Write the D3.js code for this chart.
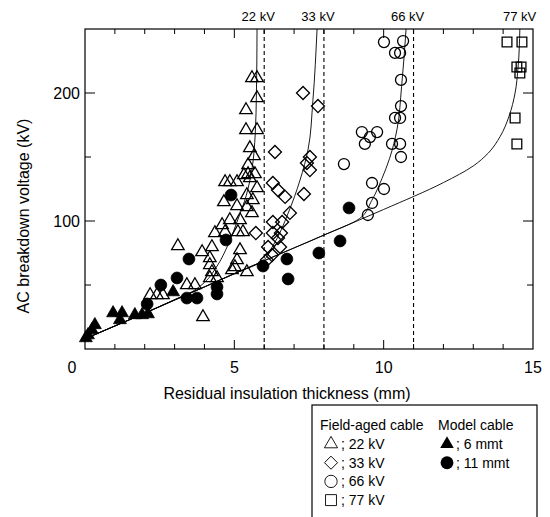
<!DOCTYPE html>
<html><head><meta charset="utf-8">
<script src="https://cdn.jsdelivr.net/npm/d3@7"></script>
<style>
html,body{margin:0;padding:0;background:#fff;}
svg{display:block;font-family:"Liberation Sans",Arial,sans-serif;}
</style></head>
<body><svg id="chart" width="550" height="517"></svg>
<script>
// ---------- data ----------
const xTicksMajor = [5, 10, 15];
const yTicksMajor = [100, 200];
const voltageLines = [6, 8, 11];
const voltageLabels = ["22 kV", "33 kV", "66 kV", "77 kV"];
const voltageLabelX = [5.8, 7.8, 10.8, 14.55];

const tri22 = [[5.59,211.7],[5.76,211.7],[5.76,196.1],[5.39,186.7],[5.39,171.1],[5.76,171.1],[5.52,157],[5.66,150.8],[5.46,143.8],[5.32,135.9],[5.52,133.6],[5.46,136.7],[5.69,136.7],[4.69,130.5],[4.85,130.5],[5.09,130.5],[5.42,120.3],[5.76,125.8],[5.62,116.4],[4.65,114.8],[5.09,111.7],[5.42,110.9],[5.59,106.3],[4.85,100.8],[5.19,100.8],[4.59,96.9],[4.35,90.6],[4.69,91.4],[5.12,91.4],[5.29,91.4],[3.11,80.5],[3.92,75.8],[4.25,79.7],[4.18,71.1],[4.18,65.6],[5.19,77.3],[5.09,69.5],[5.02,64.1],[4.25,60.2],[4.92,61.7],[5.42,60.2],[4.18,55.5],[4.42,55.5],[3.41,50],[3.68,50],[2.18,42.2],[2.41,42.2],[2.61,42.2],[3.95,25]];
const dia33 = [[7.3,200],[7.8,189.8],[6.36,153.9],[7.53,150],[7.53,139.8],[7.43,145.3],[6.29,129.7],[6.46,124.2],[6.7,118.8],[7.33,121.1],[6.86,106.3],[6.29,99.2],[6.6,99.2],[6.29,90.6],[6.56,90.6],[5.72,90.6],[6.46,86.7],[6.13,79.7],[6.53,79.7],[6.26,73.4],[6.09,69.5]];
const cir66 = [[10.01,239.8],[10.65,240.6],[10.38,231.3],[10.55,231.3],[10.58,210.2],[10.58,189.8],[10.38,180.5],[10.55,180.5],[9.27,169.5],[9.78,169.5],[9.54,165.6],[9.37,160.2],[10.28,160.2],[10.55,160.2],[10.58,150],[8.67,144.5],[9.61,129.7],[10.01,125],[9.61,114.1],[9.47,104.7]];
const sq77 = [[14.13,239.8],[14.63,239.8],[14.46,220.3],[14.6,220.3],[14.56,215.6],[14.4,180.5],[14.46,160.2]];
const model6 = [[0.03,8.6],[0.1,10.9],[0.23,14.8],[0.33,18.8],[0.94,28.1],[1.24,28.1],[1.17,22.7],[1.67,26.6],[1.91,26.6],[2.11,27.3],[2.95,44.5]];
const model11 = [[4.89,120.3],[4.72,85.2],[3.48,70.3],[3.08,55.5],[2.54,50],[2.08,35.2],[3.41,39.8],[3.75,39.8],[4.42,48.4],[4.42,43],[5.96,64.8],[6.76,70.3],[6.8,54.7],[7.83,75],[8.54,84.4],[8.84,110.2]];

const curve22 = [[0,8],[1,18],[2,28],[3,38.5],[3.6,45],[4.0,52],[4.4,64],[4.8,82],[5.1,100],[5.4,120],[5.6,142],[5.7,168],[5.74,200],[5.76,250]];
const curve33 = [[0,8],[1,18],[2,28],[3,38.5],[4,48.5],[5,59],[5.9,68],[6.3,81],[6.8,106],[7.2,132],[7.47,156],[7.63,194],[7.77,250]];
const curve66 = [[0,8],[2,28],[4,48.5],[6,69],[8,89],[9.2,102],[9.6,116],[9.94,133],[10.2,149],[10.45,172],[10.6,205],[10.75,250]];
const curve77 = [[0,8],[2,28],[4,48.5],[6,69],[8,89],[10,109],[12,130],[13,143],[13.5,153],[13.9,166],[14.2,182],[14.4,200],[14.5,220],[14.56,250]];

// ---------- drawing ----------
const svg = d3.select("#chart");
const x = d3.scaleLinear().domain([0, 15]).range([85, 533]);
const y = d3.scaleLinear().domain([0, 250]).range([349, 29]);

const g = svg.append("g");

// frame
g.append("rect").attr("x", x(0)).attr("y", y(250)).attr("width", x(15)-x(0)).attr("height", y(0)-y(250))
  .attr("fill", "none").attr("stroke", "#000").attr("stroke-width", 1.2);

// ticks
const xMinor = d3.range(1, 15, 1);
const yMinor = d3.range(50, 250, 50);
xMinor.forEach(v => {
  const len = xTicksMajor.includes(v) ? 9 : 5;
  g.append("line").attr("x1", x(v)).attr("x2", x(v)).attr("y1", y(0)).attr("y2", y(0)-len).attr("stroke", "#000");
  g.append("line").attr("x1", x(v)).attr("x2", x(v)).attr("y1", y(250)).attr("y2", y(250)+len).attr("stroke", "#000");
});
yMinor.forEach(v => {
  const len = yTicksMajor.includes(v) ? 10 : 6;
  g.append("line").attr("x1", x(0)).attr("x2", x(0)+len).attr("y1", y(v)).attr("y2", y(v)).attr("stroke", "#000");
  g.append("line").attr("x1", x(15)).attr("x2", x(15)-len).attr("y1", y(v)).attr("y2", y(v)).attr("stroke", "#000");
});

// tick labels
g.selectAll(".xl").data(xTicksMajor).join("text").attr("x", d => x(d)).attr("y", 373)
  .attr("text-anchor", "middle").attr("font-size", 16).text(d => d);
g.append("text").attr("x", 72).attr("y", 373).attr("text-anchor", "middle").attr("font-size", 16).text("0");
g.selectAll(".yl").data(yTicksMajor).join("text").attr("x", 80).attr("y", d => y(d)+6)
  .attr("text-anchor", "end").attr("font-size", 16).text(d => d);

// axis titles
g.append("text").attr("x", 287).attr("y", 399).attr("text-anchor", "middle").attr("font-size", 16)
  .text("Residual insulation thickness (mm)");
g.append("text").attr("transform", "translate(29,216) rotate(-90)").attr("text-anchor", "middle").attr("font-size", 16)
  .text("AC breakdown voltage (kV)");

// dashed voltage lines
voltageLines.forEach(v => {
  g.append("line").attr("x1", x(v)).attr("x2", x(v)).attr("y1", y(0)).attr("y2", y(250))
    .attr("stroke", "#000").attr("stroke-width", 1.1).attr("stroke-dasharray", "4,3");
});
voltageLabels.forEach((t, i) => {
  g.append("text").attr("x", x(voltageLabelX[i])).attr("y", 21).attr("text-anchor", "middle")
    .attr("font-size", 13).text(t);
});

// fit curves
const line = d3.line().x(d => x(d[0])).y(d => y(d[1])).curve(d3.curveMonotoneY);
[curve22, curve33, curve66, curve77].forEach(c => {
  g.append("path").attr("d", line(c)).attr("fill", "none").attr("stroke", "#000").attr("stroke-width", 0.9);
});

// markers
function plot(data, type, size, filled, rot) {
  const sym = d3.symbol().type(type).size(size);
  g.append("g").selectAll("path").data(data).join("path")
    .attr("d", sym)
    .attr("transform", d => `translate(${x(d[0])},${y(d[1])})` + (rot ? " rotate(45)" : ""))
    .attr("fill", filled ? "#000" : "none")
    .attr("stroke", "#000").attr("stroke-width", filled ? 0.8 : 1.3);
}
plot(tri22, d3.symbolTriangle, 68, false);
plot(dia33, d3.symbolSquare, 85, false, true);
plot(cir66, d3.symbolCircle, 95, false);
plot(sq77, d3.symbolSquare, 95, false);
plot(model6, d3.symbolTriangle, 72, true);
plot(model11, d3.symbolCircle, 110, true);

// legend
const lg = svg.append("g");
lg.append("rect").attr("x", 312).attr("y", 405).attr("width", 225).attr("height", 130)
  .attr("fill", "none").attr("stroke", "#000").attr("stroke-width", 1.2);
lg.append("text").attr("x", 320).attr("y", 430).attr("font-size", 14).text("Field-aged cable");
lg.append("text").attr("x", 438).attr("y", 430).attr("font-size", 14).text("Model cable");
const legItems = [
  {t: "; 22 kV", s: d3.symbolTriangle, sz: 75, f: false, r: false},
  {t: "; 33 kV", s: d3.symbolSquare, sz: 85, f: false, r: true},
  {t: "; 66 kV", s: d3.symbolCircle, sz: 120, f: false, r: false},
  {t: "; 77 kV", s: d3.symbolSquare, sz: 120, f: false, r: false}
];
legItems.forEach((it, i) => {
  const yy = 444 + i * 18.7;
  lg.append("path").attr("d", d3.symbol().type(it.s).size(it.sz))
    .attr("transform", `translate(331,${yy})` + (it.r ? " rotate(45)" : ""))
    .attr("fill", "none").attr("stroke", "#000").attr("stroke-width", 0.9);
  lg.append("text").attr("x", 341).attr("y", yy + 5).attr("font-size", 14).text(it.t);
});
const legModel = [
  {t: "; 6 mmt", s: d3.symbolTriangle, sz: 80},
  {t: "; 11 mmt", s: d3.symbolCircle, sz: 130}
];
legModel.forEach((it, i) => {
  const yy = 444 + i * 18.7;
  lg.append("path").attr("d", d3.symbol().type(it.s).size(it.sz))
    .attr("transform", `translate(447,${yy})`).attr("fill", "#000");
  lg.append("text").attr("x", 456).attr("y", yy + 5).attr("font-size", 14).text(it.t);
});
</script></body></html>
